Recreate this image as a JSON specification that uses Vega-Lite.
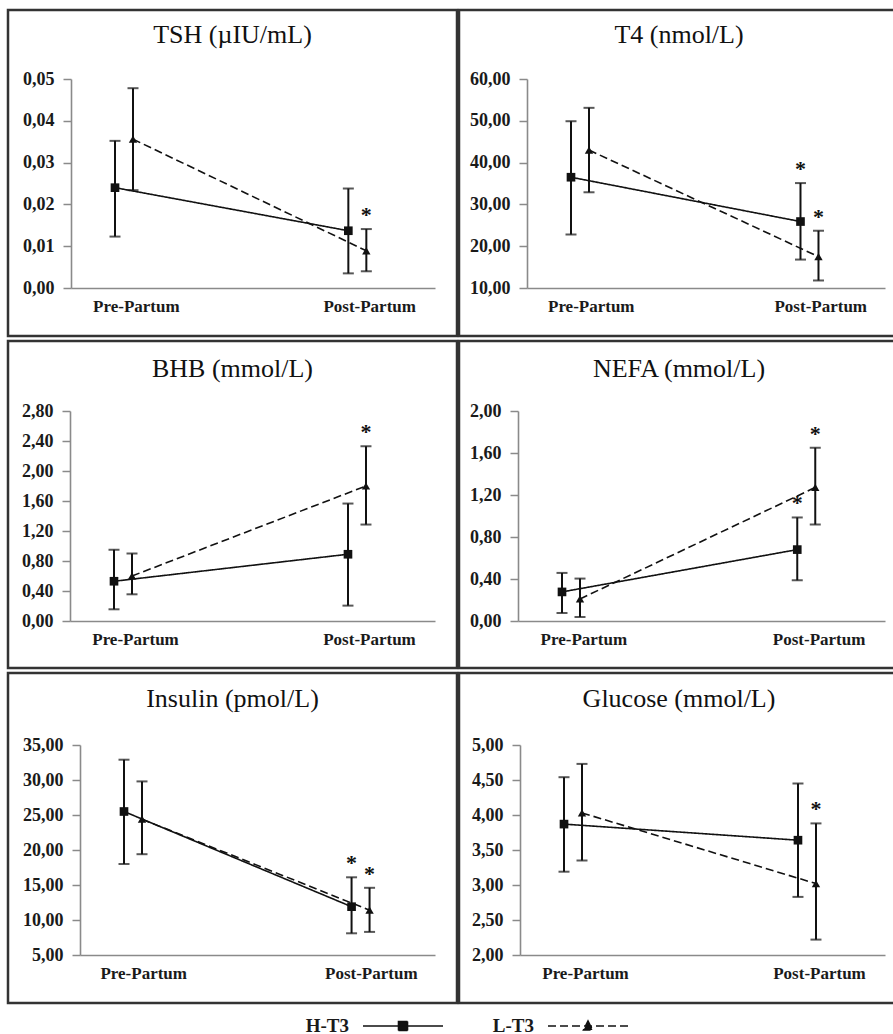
{
"$schema": "https://vega.github.io/schema/vega-lite/v6.json",
"padding": {"left": 6, "top": 8, "right": 0, "bottom": 0},
"autosize": {"type": "pad"},
"background": "white",
"datasets": {"d": [
{"panel":"TSH","phase":"Pre-Partum","group":"H-T3","mean":0.024,"lo":0.0123,"hi":0.0352,"sig":false},
{"panel":"TSH","phase":"Pre-Partum","group":"L-T3","mean":0.0356,"lo":0.0234,"hi":0.0478,"sig":false},
{"panel":"TSH","phase":"Post-Partum","group":"H-T3","mean":0.0137,"lo":0.0035,"hi":0.0238,"sig":false},
{"panel":"TSH","phase":"Post-Partum","group":"L-T3","mean":0.0089,"lo":0.004,"hi":0.0141,"sig":true},
{"panel":"T4","phase":"Pre-Partum","group":"H-T3","mean":36.5,"lo":22.8,"hi":49.9,"sig":false},
{"panel":"T4","phase":"Pre-Partum","group":"L-T3","mean":43.0,"lo":32.9,"hi":53.1,"sig":false},
{"panel":"T4","phase":"Post-Partum","group":"H-T3","mean":25.9,"lo":16.8,"hi":35.1,"sig":true},
{"panel":"T4","phase":"Post-Partum","group":"L-T3","mean":17.5,"lo":11.8,"hi":23.7,"sig":true},
{"panel":"BHB","phase":"Pre-Partum","group":"H-T3","mean":0.53,"lo":0.156,"hi":0.95,"sig":false},
{"panel":"BHB","phase":"Pre-Partum","group":"L-T3","mean":0.6,"lo":0.356,"hi":0.9,"sig":false},
{"panel":"BHB","phase":"Post-Partum","group":"H-T3","mean":0.89,"lo":0.205,"hi":1.566,"sig":false},
{"panel":"BHB","phase":"Post-Partum","group":"L-T3","mean":1.8,"lo":1.286,"hi":2.33,"sig":true},
{"panel":"NEFA","phase":"Pre-Partum","group":"H-T3","mean":0.277,"lo":0.076,"hi":0.458,"sig":false},
{"panel":"NEFA","phase":"Pre-Partum","group":"L-T3","mean":0.21,"lo":0.038,"hi":0.404,"sig":false},
{"panel":"NEFA","phase":"Post-Partum","group":"H-T3","mean":0.68,"lo":0.388,"hi":0.986,"sig":true},
{"panel":"NEFA","phase":"Post-Partum","group":"L-T3","mean":1.272,"lo":0.919,"hi":1.65,"sig":true},
{"panel":"Insulin","phase":"Pre-Partum","group":"H-T3","mean":25.5,"lo":18.0,"hi":32.9,"sig":false},
{"panel":"Insulin","phase":"Pre-Partum","group":"L-T3","mean":24.4,"lo":19.4,"hi":29.8,"sig":false},
{"panel":"Insulin","phase":"Post-Partum","group":"H-T3","mean":11.9,"lo":8.1,"hi":16.1,"sig":true},
{"panel":"Insulin","phase":"Post-Partum","group":"L-T3","mean":11.4,"lo":8.3,"hi":14.6,"sig":true},
{"panel":"Glucose","phase":"Pre-Partum","group":"H-T3","mean":3.87,"lo":3.19,"hi":4.54,"sig":false},
{"panel":"Glucose","phase":"Pre-Partum","group":"L-T3","mean":4.03,"lo":3.35,"hi":4.73,"sig":false},
{"panel":"Glucose","phase":"Post-Partum","group":"H-T3","mean":3.64,"lo":2.83,"hi":4.45,"sig":false},
{"panel":"Glucose","phase":"Post-Partum","group":"L-T3","mean":3.02,"lo":2.22,"hi":3.88,"sig":true}
]},
"data": {"name": "d"},
"spacing": 1,
"vconcat": [
{"spacing": -2, "hconcat": [
{
"width": 449, "height": 326,
"title": {"text": "TSH (µIU/mL)", "offset": -38},
"transform": [{"filter": "datum.panel === 'TSH'"}],
"encoding": {
 "x": {"field": "phase", "type": "nominal", "scale": {"domain": ["Pre-Partum","Post-Partum"], "range": [63,427], "paddingInner": 0.44, "paddingOuter": 0}, "axis": {"offset": -48, "title": null}},
 "xOffset": {"field": "group", "type": "nominal", "scale": {"type": "point", "domain": ["H-T3","L-T3"], "range": [44,62], "padding": 0}}
},
"layer": [
 {"mark": {"type": "rule", "strokeWidth": 2, "color": "#111"}, "encoding": {"y": {"field": "lo", "type": "quantitative", "scale": {"domain": [0,0.05], "range": [278,69], "nice": false, "zero": false}, "axis": {"values": [0,0.01,0.02,0.03,0.04,0.05], "offset": -63, "title": null, "labelExpr": "replace(format(datum.value, '.2f'), '.', ',')"}}, "y2": {"field": "hi"}}},
 {"mark": {"type": "tick", "size": 11, "thickness": 2, "color": "#111"}, "encoding": {"y": {"field": "lo", "type": "quantitative", "scale": {"domain": [0,0.05], "range": [278,69], "nice": false, "zero": false}, "axis": {"values": [0,0.01,0.02,0.03,0.04,0.05], "offset": -63, "title": null, "labelExpr": "replace(format(datum.value, '.2f'), '.', ',')"}}}},
 {"mark": {"type": "tick", "size": 11, "thickness": 2, "color": "#111"}, "encoding": {"y": {"field": "hi", "type": "quantitative", "scale": {"domain": [0,0.05], "range": [278,69], "nice": false, "zero": false}, "axis": {"values": [0,0.01,0.02,0.03,0.04,0.05], "offset": -63, "title": null, "labelExpr": "replace(format(datum.value, '.2f'), '.', ',')"}}}},
 {"mark": {"type": "line", "color": "#111", "strokeWidth": 1.6}, "encoding": {"y": {"field": "mean", "type": "quantitative", "scale": {"domain": [0,0.05], "range": [278,69], "nice": false, "zero": false}, "axis": {"values": [0,0.01,0.02,0.03,0.04,0.05], "offset": -63, "title": null, "labelExpr": "replace(format(datum.value, '.2f'), '.', ',')"}},
   "strokeDash": {"field": "group", "type": "nominal", "scale": {"domain": ["H-T3","L-T3"], "range": [[1,0],[8,4]]},
     "legend": {"orient": "none", "legendX": 384, "legendY": 1005, "direction": "horizontal", "title": null, "padding": 0, "symbolSize": 400, "labelAlign": "right", "labelOffset": -65, "columnPadding": 45, "labelFontSize": 19, "labelFontWeight": "bold", "labelFont": "Liberation Serif", "labelColor": "#1a1a1a", "symbolStrokeWidth": 1.6, "symbolStrokeColor": "#111",
       "encode": {"symbols": {"update": {"shape": {"signal": "datum.value === 'H-T3' ? 'M-4,0H4M-0.45,-0.45H0.45V0.45H-0.45Z' : 'M-4,0H4M0,-0.5L0.45,0.4H-0.45Z'"}, "fill": {"value": "#111"}, "stroke": {"value": "#111"}}}}}}}},
 {"transform": [{"filter": "datum.group === 'H-T3'"}], "mark": {"type": "point", "shape": "square", "filled": true, "color": "#111", "size": 75, "opacity": 1}, "encoding": {"y": {"field": "mean", "type": "quantitative", "scale": {"domain": [0,0.05], "range": [278,69], "nice": false, "zero": false}, "axis": {"values": [0,0.01,0.02,0.03,0.04,0.05], "offset": -63, "title": null, "labelExpr": "replace(format(datum.value, '.2f'), '.', ',')"}}}},
 {"transform": [{"filter": "datum.group === 'L-T3'"}], "mark": {"type": "point", "shape": "triangle-up", "filled": true, "color": "#111", "size": 70, "opacity": 1}, "encoding": {"y": {"field": "mean", "type": "quantitative", "scale": {"domain": [0,0.05], "range": [278,69], "nice": false, "zero": false}, "axis": {"values": [0,0.01,0.02,0.03,0.04,0.05], "offset": -63, "title": null, "labelExpr": "replace(format(datum.value, '.2f'), '.', ',')"}}}},
 {"transform": [{"filter": "datum.sig"}], "mark": {"type": "text", "text": "*", "fontSize": 22, "fontWeight": "bold", "dy": -7, "baseline": "alphabetic", "color": "#111"}, "encoding": {"y": {"field": "hi", "type": "quantitative", "scale": {"domain": [0,0.05], "range": [278,69], "nice": false, "zero": false}, "axis": {"values": [0,0.01,0.02,0.03,0.04,0.05], "offset": -63, "title": null, "labelExpr": "replace(format(datum.value, '.2f'), '.', ',')"}}}}
]
},
{
"width": 440, "height": 326,
"title": {"text": "T4 (nmol/L)", "offset": -38},
"transform": [{"filter": "datum.panel === 'T4'"}],
"encoding": {
 "x": {"field": "phase", "type": "nominal", "scale": {"domain": ["Pre-Partum","Post-Partum"], "range": [68,426], "paddingInner": 0.44, "paddingOuter": 0}, "axis": {"offset": -48, "title": null}},
 "xOffset": {"field": "group", "type": "nominal", "scale": {"type": "point", "domain": ["H-T3","L-T3"], "range": [44,62], "padding": 0}}
},
"layer": [
 {"mark": {"type": "rule", "strokeWidth": 2, "color": "#111"}, "encoding": {"y": {"field": "lo", "type": "quantitative", "scale": {"domain": [10,60], "range": [278,69], "nice": false, "zero": false}, "axis": {"values": [10,20,30,40,50,60], "offset": -68, "title": null, "labelExpr": "replace(format(datum.value, '.2f'), '.', ',')"}}, "y2": {"field": "hi"}}},
 {"mark": {"type": "tick", "size": 11, "thickness": 2, "color": "#111"}, "encoding": {"y": {"field": "lo", "type": "quantitative", "scale": {"domain": [10,60], "range": [278,69], "nice": false, "zero": false}, "axis": {"values": [10,20,30,40,50,60], "offset": -68, "title": null, "labelExpr": "replace(format(datum.value, '.2f'), '.', ',')"}}}},
 {"mark": {"type": "tick", "size": 11, "thickness": 2, "color": "#111"}, "encoding": {"y": {"field": "hi", "type": "quantitative", "scale": {"domain": [10,60], "range": [278,69], "nice": false, "zero": false}, "axis": {"values": [10,20,30,40,50,60], "offset": -68, "title": null, "labelExpr": "replace(format(datum.value, '.2f'), '.', ',')"}}}},
 {"mark": {"type": "line", "color": "#111", "strokeWidth": 1.6}, "encoding": {"y": {"field": "mean", "type": "quantitative", "scale": {"domain": [10,60], "range": [278,69], "nice": false, "zero": false}, "axis": {"values": [10,20,30,40,50,60], "offset": -68, "title": null, "labelExpr": "replace(format(datum.value, '.2f'), '.', ',')"}}, "strokeDash": {"field": "group", "type": "nominal", "scale": {"domain": ["H-T3","L-T3"], "range": [[1,0],[8,4]]}, "legend": null}}},
 {"transform": [{"filter": "datum.group === 'H-T3'"}], "mark": {"type": "point", "shape": "square", "filled": true, "color": "#111", "size": 75, "opacity": 1}, "encoding": {"y": {"field": "mean", "type": "quantitative", "scale": {"domain": [10,60], "range": [278,69], "nice": false, "zero": false}, "axis": {"values": [10,20,30,40,50,60], "offset": -68, "title": null, "labelExpr": "replace(format(datum.value, '.2f'), '.', ',')"}}}},
 {"transform": [{"filter": "datum.group === 'L-T3'"}], "mark": {"type": "point", "shape": "triangle-up", "filled": true, "color": "#111", "size": 70, "opacity": 1}, "encoding": {"y": {"field": "mean", "type": "quantitative", "scale": {"domain": [10,60], "range": [278,69], "nice": false, "zero": false}, "axis": {"values": [10,20,30,40,50,60], "offset": -68, "title": null, "labelExpr": "replace(format(datum.value, '.2f'), '.', ',')"}}}},
 {"transform": [{"filter": "datum.sig"}], "mark": {"type": "text", "text": "*", "fontSize": 22, "fontWeight": "bold", "dy": -7, "baseline": "alphabetic", "color": "#111"}, "encoding": {"y": {"field": "hi", "type": "quantitative", "scale": {"domain": [10,60], "range": [278,69], "nice": false, "zero": false}, "axis": {"values": [10,20,30,40,50,60], "offset": -68, "title": null, "labelExpr": "replace(format(datum.value, '.2f'), '.', ',')"}}}}
]
}
]},
{"spacing": -2, "hconcat": [
{
"width": 449, "height": 327,
"title": {"text": "BHB (mmol/L)", "offset": -41},
"transform": [{"filter": "datum.panel === 'BHB'"}],
"encoding": {
 "x": {"field": "phase", "type": "nominal", "scale": {"domain": ["Pre-Partum","Post-Partum"], "range": [62,427], "paddingInner": 0.44, "paddingOuter": 0}, "axis": {"offset": -47, "title": null}},
 "xOffset": {"field": "group", "type": "nominal", "scale": {"type": "point", "domain": ["H-T3","L-T3"], "range": [44,62], "padding": 0}}
},
"layer": [
 {"mark": {"type": "rule", "strokeWidth": 2, "color": "#111"}, "encoding": {"y": {"field": "lo", "type": "quantitative", "scale": {"domain": [0,2.8], "range": [280,70], "nice": false, "zero": false}, "axis": {"values": [0,0.4,0.8,1.2,1.6,2.0,2.4,2.8], "offset": -62, "title": null, "labelExpr": "replace(format(datum.value, '.2f'), '.', ',')"}}, "y2": {"field": "hi"}}},
 {"mark": {"type": "tick", "size": 11, "thickness": 2, "color": "#111"}, "encoding": {"y": {"field": "lo", "type": "quantitative", "scale": {"domain": [0,2.8], "range": [280,70], "nice": false, "zero": false}, "axis": {"values": [0,0.4,0.8,1.2,1.6,2.0,2.4,2.8], "offset": -62, "title": null, "labelExpr": "replace(format(datum.value, '.2f'), '.', ',')"}}}},
 {"mark": {"type": "tick", "size": 11, "thickness": 2, "color": "#111"}, "encoding": {"y": {"field": "hi", "type": "quantitative", "scale": {"domain": [0,2.8], "range": [280,70], "nice": false, "zero": false}, "axis": {"values": [0,0.4,0.8,1.2,1.6,2.0,2.4,2.8], "offset": -62, "title": null, "labelExpr": "replace(format(datum.value, '.2f'), '.', ',')"}}}},
 {"mark": {"type": "line", "color": "#111", "strokeWidth": 1.6}, "encoding": {"y": {"field": "mean", "type": "quantitative", "scale": {"domain": [0,2.8], "range": [280,70], "nice": false, "zero": false}, "axis": {"values": [0,0.4,0.8,1.2,1.6,2.0,2.4,2.8], "offset": -62, "title": null, "labelExpr": "replace(format(datum.value, '.2f'), '.', ',')"}}, "strokeDash": {"field": "group", "type": "nominal", "scale": {"domain": ["H-T3","L-T3"], "range": [[1,0],[8,4]]}, "legend": null}}},
 {"transform": [{"filter": "datum.group === 'H-T3'"}], "mark": {"type": "point", "shape": "square", "filled": true, "color": "#111", "size": 75, "opacity": 1}, "encoding": {"y": {"field": "mean", "type": "quantitative", "scale": {"domain": [0,2.8], "range": [280,70], "nice": false, "zero": false}, "axis": {"values": [0,0.4,0.8,1.2,1.6,2.0,2.4,2.8], "offset": -62, "title": null, "labelExpr": "replace(format(datum.value, '.2f'), '.', ',')"}}}},
 {"transform": [{"filter": "datum.group === 'L-T3'"}], "mark": {"type": "point", "shape": "triangle-up", "filled": true, "color": "#111", "size": 70, "opacity": 1}, "encoding": {"y": {"field": "mean", "type": "quantitative", "scale": {"domain": [0,2.8], "range": [280,70], "nice": false, "zero": false}, "axis": {"values": [0,0.4,0.8,1.2,1.6,2.0,2.4,2.8], "offset": -62, "title": null, "labelExpr": "replace(format(datum.value, '.2f'), '.', ',')"}}}},
 {"transform": [{"filter": "datum.sig"}], "mark": {"type": "text", "text": "*", "fontSize": 22, "fontWeight": "bold", "dy": -7, "baseline": "alphabetic", "color": "#111"}, "encoding": {"y": {"field": "hi", "type": "quantitative", "scale": {"domain": [0,2.8], "range": [280,70], "nice": false, "zero": false}, "axis": {"values": [0,0.4,0.8,1.2,1.6,2.0,2.4,2.8], "offset": -62, "title": null, "labelExpr": "replace(format(datum.value, '.2f'), '.', ',')"}}}}
]
},
{
"width": 440, "height": 327,
"title": {"text": "NEFA (mmol/L)", "offset": -41},
"transform": [{"filter": "datum.panel === 'NEFA'"}],
"encoding": {
 "x": {"field": "phase", "type": "nominal", "scale": {"domain": ["Pre-Partum","Post-Partum"], "range": [59,426], "paddingInner": 0.44, "paddingOuter": 0}, "axis": {"offset": -47, "title": null}},
 "xOffset": {"field": "group", "type": "nominal", "scale": {"type": "point", "domain": ["H-T3","L-T3"], "range": [44,62], "padding": 0}}
},
"layer": [
 {"mark": {"type": "rule", "strokeWidth": 2, "color": "#111"}, "encoding": {"y": {"field": "lo", "type": "quantitative", "scale": {"domain": [0,2], "range": [280,70], "nice": false, "zero": false}, "axis": {"values": [0,0.4,0.8,1.2,1.6,2.0], "offset": -59, "title": null, "labelExpr": "replace(format(datum.value, '.2f'), '.', ',')"}}, "y2": {"field": "hi"}}},
 {"mark": {"type": "tick", "size": 11, "thickness": 2, "color": "#111"}, "encoding": {"y": {"field": "lo", "type": "quantitative", "scale": {"domain": [0,2], "range": [280,70], "nice": false, "zero": false}, "axis": {"values": [0,0.4,0.8,1.2,1.6,2.0], "offset": -59, "title": null, "labelExpr": "replace(format(datum.value, '.2f'), '.', ',')"}}}},
 {"mark": {"type": "tick", "size": 11, "thickness": 2, "color": "#111"}, "encoding": {"y": {"field": "hi", "type": "quantitative", "scale": {"domain": [0,2], "range": [280,70], "nice": false, "zero": false}, "axis": {"values": [0,0.4,0.8,1.2,1.6,2.0], "offset": -59, "title": null, "labelExpr": "replace(format(datum.value, '.2f'), '.', ',')"}}}},
 {"mark": {"type": "line", "color": "#111", "strokeWidth": 1.6}, "encoding": {"y": {"field": "mean", "type": "quantitative", "scale": {"domain": [0,2], "range": [280,70], "nice": false, "zero": false}, "axis": {"values": [0,0.4,0.8,1.2,1.6,2.0], "offset": -59, "title": null, "labelExpr": "replace(format(datum.value, '.2f'), '.', ',')"}}, "strokeDash": {"field": "group", "type": "nominal", "scale": {"domain": ["H-T3","L-T3"], "range": [[1,0],[8,4]]}, "legend": null}}},
 {"transform": [{"filter": "datum.group === 'H-T3'"}], "mark": {"type": "point", "shape": "square", "filled": true, "color": "#111", "size": 75, "opacity": 1}, "encoding": {"y": {"field": "mean", "type": "quantitative", "scale": {"domain": [0,2], "range": [280,70], "nice": false, "zero": false}, "axis": {"values": [0,0.4,0.8,1.2,1.6,2.0], "offset": -59, "title": null, "labelExpr": "replace(format(datum.value, '.2f'), '.', ',')"}}}},
 {"transform": [{"filter": "datum.group === 'L-T3'"}], "mark": {"type": "point", "shape": "triangle-up", "filled": true, "color": "#111", "size": 70, "opacity": 1}, "encoding": {"y": {"field": "mean", "type": "quantitative", "scale": {"domain": [0,2], "range": [280,70], "nice": false, "zero": false}, "axis": {"values": [0,0.4,0.8,1.2,1.6,2.0], "offset": -59, "title": null, "labelExpr": "replace(format(datum.value, '.2f'), '.', ',')"}}}},
 {"transform": [{"filter": "datum.sig"}], "mark": {"type": "text", "text": "*", "fontSize": 22, "fontWeight": "bold", "dy": -7, "baseline": "alphabetic", "color": "#111"}, "encoding": {"y": {"field": "hi", "type": "quantitative", "scale": {"domain": [0,2], "range": [280,70], "nice": false, "zero": false}, "axis": {"values": [0,0.4,0.8,1.2,1.6,2.0], "offset": -59, "title": null, "labelExpr": "replace(format(datum.value, '.2f'), '.', ',')"}}}}
]
}
]},
{"spacing": -2, "hconcat": [
{
"width": 449, "height": 330,
"title": {"text": "Insulin (pmol/L)", "offset": -39},
"transform": [{"filter": "datum.panel === 'Insulin'"}],
"encoding": {
 "x": {"field": "phase", "type": "nominal", "scale": {"domain": ["Pre-Partum","Post-Partum"], "range": [72,427], "paddingInner": 0.44, "paddingOuter": 0}, "axis": {"offset": -48, "title": null}},
 "xOffset": {"field": "group", "type": "nominal", "scale": {"type": "point", "domain": ["H-T3","L-T3"], "range": [44,62], "padding": 0}}
},
"layer": [
 {"mark": {"type": "rule", "strokeWidth": 2, "color": "#111"}, "encoding": {"y": {"field": "lo", "type": "quantitative", "scale": {"domain": [5,35], "range": [282,72], "nice": false, "zero": false}, "axis": {"values": [5,10,15,20,25,30,35], "offset": -72, "title": null, "labelExpr": "replace(format(datum.value, '.2f'), '.', ',')"}}, "y2": {"field": "hi"}}},
 {"mark": {"type": "tick", "size": 11, "thickness": 2, "color": "#111"}, "encoding": {"y": {"field": "lo", "type": "quantitative", "scale": {"domain": [5,35], "range": [282,72], "nice": false, "zero": false}, "axis": {"values": [5,10,15,20,25,30,35], "offset": -72, "title": null, "labelExpr": "replace(format(datum.value, '.2f'), '.', ',')"}}}},
 {"mark": {"type": "tick", "size": 11, "thickness": 2, "color": "#111"}, "encoding": {"y": {"field": "hi", "type": "quantitative", "scale": {"domain": [5,35], "range": [282,72], "nice": false, "zero": false}, "axis": {"values": [5,10,15,20,25,30,35], "offset": -72, "title": null, "labelExpr": "replace(format(datum.value, '.2f'), '.', ',')"}}}},
 {"mark": {"type": "line", "color": "#111", "strokeWidth": 1.6}, "encoding": {"y": {"field": "mean", "type": "quantitative", "scale": {"domain": [5,35], "range": [282,72], "nice": false, "zero": false}, "axis": {"values": [5,10,15,20,25,30,35], "offset": -72, "title": null, "labelExpr": "replace(format(datum.value, '.2f'), '.', ',')"}}, "strokeDash": {"field": "group", "type": "nominal", "scale": {"domain": ["H-T3","L-T3"], "range": [[1,0],[8,4]]}, "legend": null}}},
 {"transform": [{"filter": "datum.group === 'H-T3'"}], "mark": {"type": "point", "shape": "square", "filled": true, "color": "#111", "size": 75, "opacity": 1}, "encoding": {"y": {"field": "mean", "type": "quantitative", "scale": {"domain": [5,35], "range": [282,72], "nice": false, "zero": false}, "axis": {"values": [5,10,15,20,25,30,35], "offset": -72, "title": null, "labelExpr": "replace(format(datum.value, '.2f'), '.', ',')"}}}},
 {"transform": [{"filter": "datum.group === 'L-T3'"}], "mark": {"type": "point", "shape": "triangle-up", "filled": true, "color": "#111", "size": 70, "opacity": 1}, "encoding": {"y": {"field": "mean", "type": "quantitative", "scale": {"domain": [5,35], "range": [282,72], "nice": false, "zero": false}, "axis": {"values": [5,10,15,20,25,30,35], "offset": -72, "title": null, "labelExpr": "replace(format(datum.value, '.2f'), '.', ',')"}}}},
 {"transform": [{"filter": "datum.sig"}], "mark": {"type": "text", "text": "*", "fontSize": 22, "fontWeight": "bold", "dy": -7, "baseline": "alphabetic", "color": "#111"}, "encoding": {"y": {"field": "hi", "type": "quantitative", "scale": {"domain": [5,35], "range": [282,72], "nice": false, "zero": false}, "axis": {"values": [5,10,15,20,25,30,35], "offset": -72, "title": null, "labelExpr": "replace(format(datum.value, '.2f'), '.', ',')"}}}}
]
},
{
"width": 440, "height": 330,
"title": {"text": "Glucose (mmol/L)", "offset": -39},
"transform": [{"filter": "datum.panel === 'Glucose'"}],
"encoding": {
 "x": {"field": "phase", "type": "nominal", "scale": {"domain": ["Pre-Partum","Post-Partum"], "range": [61,426], "paddingInner": 0.44, "paddingOuter": 0}, "axis": {"offset": -48, "title": null}},
 "xOffset": {"field": "group", "type": "nominal", "scale": {"type": "point", "domain": ["H-T3","L-T3"], "range": [44,62], "padding": 0}}
},
"layer": [
 {"mark": {"type": "rule", "strokeWidth": 2, "color": "#111"}, "encoding": {"y": {"field": "lo", "type": "quantitative", "scale": {"domain": [2,5], "range": [282,72], "nice": false, "zero": false}, "axis": {"values": [2,2.5,3,3.5,4,4.5,5], "offset": -61, "title": null, "labelExpr": "replace(format(datum.value, '.2f'), '.', ',')"}}, "y2": {"field": "hi"}}},
 {"mark": {"type": "tick", "size": 11, "thickness": 2, "color": "#111"}, "encoding": {"y": {"field": "lo", "type": "quantitative", "scale": {"domain": [2,5], "range": [282,72], "nice": false, "zero": false}, "axis": {"values": [2,2.5,3,3.5,4,4.5,5], "offset": -61, "title": null, "labelExpr": "replace(format(datum.value, '.2f'), '.', ',')"}}}},
 {"mark": {"type": "tick", "size": 11, "thickness": 2, "color": "#111"}, "encoding": {"y": {"field": "hi", "type": "quantitative", "scale": {"domain": [2,5], "range": [282,72], "nice": false, "zero": false}, "axis": {"values": [2,2.5,3,3.5,4,4.5,5], "offset": -61, "title": null, "labelExpr": "replace(format(datum.value, '.2f'), '.', ',')"}}}},
 {"mark": {"type": "line", "color": "#111", "strokeWidth": 1.6}, "encoding": {"y": {"field": "mean", "type": "quantitative", "scale": {"domain": [2,5], "range": [282,72], "nice": false, "zero": false}, "axis": {"values": [2,2.5,3,3.5,4,4.5,5], "offset": -61, "title": null, "labelExpr": "replace(format(datum.value, '.2f'), '.', ',')"}}, "strokeDash": {"field": "group", "type": "nominal", "scale": {"domain": ["H-T3","L-T3"], "range": [[1,0],[8,4]]}, "legend": null}}},
 {"transform": [{"filter": "datum.group === 'H-T3'"}], "mark": {"type": "point", "shape": "square", "filled": true, "color": "#111", "size": 75, "opacity": 1}, "encoding": {"y": {"field": "mean", "type": "quantitative", "scale": {"domain": [2,5], "range": [282,72], "nice": false, "zero": false}, "axis": {"values": [2,2.5,3,3.5,4,4.5,5], "offset": -61, "title": null, "labelExpr": "replace(format(datum.value, '.2f'), '.', ',')"}}}},
 {"transform": [{"filter": "datum.group === 'L-T3'"}], "mark": {"type": "point", "shape": "triangle-up", "filled": true, "color": "#111", "size": 70, "opacity": 1}, "encoding": {"y": {"field": "mean", "type": "quantitative", "scale": {"domain": [2,5], "range": [282,72], "nice": false, "zero": false}, "axis": {"values": [2,2.5,3,3.5,4,4.5,5], "offset": -61, "title": null, "labelExpr": "replace(format(datum.value, '.2f'), '.', ',')"}}}},
 {"transform": [{"filter": "datum.sig"}], "mark": {"type": "text", "text": "*", "fontSize": 22, "fontWeight": "bold", "dy": -7, "baseline": "alphabetic", "color": "#111"}, "encoding": {"y": {"field": "hi", "type": "quantitative", "scale": {"domain": [2,5], "range": [282,72], "nice": false, "zero": false}, "axis": {"values": [2,2.5,3,3.5,4,4.5,5], "offset": -61, "title": null, "labelExpr": "replace(format(datum.value, '.2f'), '.', ',')"}}}}
]
}
]}
],
"config": {
 "font": "Liberation Serif",
 "view": {"stroke": "#333333", "strokeWidth": 2.5, "fill": "white"},
 "title": {"fontSize": 26, "fontWeight": "normal", "color": "#111", "anchor": "middle", "baseline": "alphabetic", "frame": "group", "font": "Liberation Serif"},
 "axis": {"grid": false, "domainColor": "#8a8a8a", "domainWidth": 1.6, "tickColor": "#8a8a8a", "tickWidth": 1.5, "labelFont": "Liberation Serif", "labelFontWeight": "bold", "labelColor": "#1a1a1a"},
 "axisX": {"ticks": false, "labelFontSize": 17, "labelPadding": 10, "labelAngle": 0},
 "axisY": {"tickSize": 8, "labelFontSize": 18, "labelPadding": 9}
}
}
